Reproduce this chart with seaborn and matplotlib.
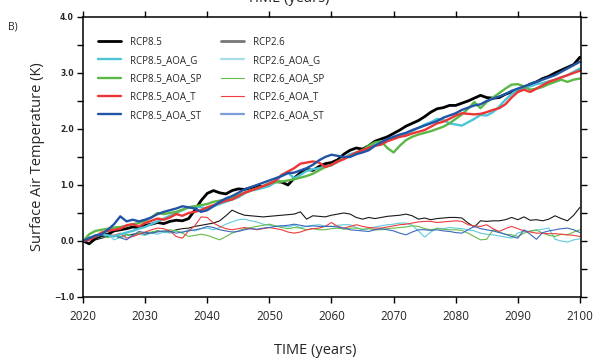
"""Surface air temperature anomaly, RCP8.5 / RCP2.6 with AOA variants (panel B)."""
import matplotlib
matplotlib.use("Agg")
import matplotlib.pyplot as plt
import numpy as np
import pandas as pd
import seaborn as sns

years = list(range(2020, 2101))

rcp85 = [0.00, -0.05, 0.05, 0.10, 0.12, 0.18, 0.20, 0.22, 0.25, 0.24,
         0.28, 0.30, 0.33, 0.31, 0.35, 0.37, 0.36, 0.40, 0.55, 0.72,
         0.85, 0.90, 0.86, 0.84, 0.90, 0.93, 0.92, 0.95, 0.98, 0.97,
         1.02, 1.06, 1.05, 1.00, 1.12, 1.22, 1.28, 1.26, 1.33, 1.38,
         1.40, 1.45, 1.55, 1.62, 1.66, 1.64, 1.70, 1.78, 1.82, 1.86,
         1.92, 1.98, 2.05, 2.10, 2.15, 2.22, 2.30, 2.36, 2.38, 2.42,
         2.42, 2.46, 2.50, 2.55, 2.60, 2.56, 2.55, 2.56, 2.62, 2.66,
         2.70, 2.74, 2.80, 2.84, 2.90, 2.94, 3.00, 3.05, 3.10, 3.15,
         3.28]
rcp85_g = [0.00, 0.05, 0.08, 0.12, 0.10, 0.08, 0.12, 0.15, 0.18, 0.22,
           0.25, 0.30, 0.35, 0.40, 0.45, 0.50, 0.55, 0.60, 0.62, 0.60,
           0.58, 0.62, 0.66, 0.70, 0.74, 0.78, 0.85, 0.90, 0.92, 0.95,
           0.98, 1.05, 1.18, 1.22, 1.12, 1.18, 1.25, 1.28, 1.30, 1.33,
           1.35, 1.42, 1.48, 1.55, 1.58, 1.62, 1.66, 1.72, 1.75, 1.80,
           1.84, 1.86, 1.90, 1.96, 2.02, 2.08, 2.12, 2.18, 2.16, 2.10,
           2.08, 2.06, 2.12, 2.18, 2.25, 2.24, 2.30, 2.40, 2.52, 2.62,
           2.70, 2.74, 2.76, 2.80, 2.82, 2.85, 2.88, 2.92, 2.96, 3.02,
           3.08]
rcp85_sp = [0.00, 0.12, 0.18, 0.20, 0.22, 0.24, 0.25, 0.27, 0.30, 0.32,
            0.36, 0.42, 0.50, 0.48, 0.50, 0.52, 0.56, 0.60, 0.62, 0.64,
            0.66, 0.70, 0.72, 0.74, 0.78, 0.82, 0.86, 0.90, 0.94, 0.98,
            1.03, 1.05, 1.06, 1.08, 1.10, 1.13, 1.16, 1.20, 1.26, 1.32,
            1.36, 1.41, 1.48, 1.52, 1.56, 1.62, 1.70, 1.76, 1.78, 1.66,
            1.58, 1.70, 1.80, 1.86, 1.90, 1.93, 1.96, 2.00, 2.04, 2.10,
            2.18, 2.26, 2.36, 2.48, 2.37, 2.48, 2.56, 2.64, 2.72, 2.79,
            2.80, 2.76, 2.70, 2.72, 2.75, 2.80, 2.84, 2.88, 2.84, 2.88,
            2.90]
rcp85_t = [0.00, 0.02, 0.08, 0.15, 0.18, 0.20, 0.22, 0.28, 0.30, 0.26,
           0.32, 0.36, 0.40, 0.38, 0.42, 0.48, 0.45, 0.50, 0.52, 0.55,
           0.60, 0.64, 0.68, 0.72, 0.74, 0.80, 0.86, 0.90, 0.94, 0.98,
           1.02, 1.08, 1.18, 1.24, 1.30, 1.38, 1.40, 1.42, 1.40, 1.32,
           1.36, 1.42, 1.46, 1.52, 1.58, 1.62, 1.66, 1.70, 1.72, 1.78,
           1.82, 1.86, 1.88, 1.92, 1.95, 1.98, 2.04, 2.10, 2.13, 2.18,
           2.24, 2.28, 2.27, 2.26, 2.27, 2.30, 2.34, 2.37, 2.44, 2.56,
           2.66, 2.70, 2.66, 2.72, 2.78, 2.84, 2.88, 2.92, 2.96, 3.00,
           3.04]
rcp85_st = [0.00, 0.05, 0.10, 0.12, 0.20, 0.30, 0.44, 0.35, 0.38, 0.35,
            0.38, 0.42, 0.48, 0.52, 0.55, 0.58, 0.62, 0.60, 0.58, 0.52,
            0.55, 0.62, 0.70, 0.76, 0.80, 0.86, 0.92, 0.96, 1.00, 1.04,
            1.08, 1.12, 1.16, 1.21, 1.22, 1.26, 1.30, 1.36, 1.44, 1.50,
            1.54, 1.52, 1.50, 1.50, 1.55, 1.58, 1.62, 1.70, 1.76, 1.82,
            1.86, 1.90, 1.93, 1.98, 2.02, 2.06, 2.10, 2.14, 2.20, 2.24,
            2.28, 2.34, 2.38, 2.42, 2.44, 2.50, 2.54, 2.58, 2.62, 2.68,
            2.72, 2.76, 2.80, 2.84, 2.88, 2.92, 2.96, 3.02, 3.08, 3.14,
            3.20]

rcp26 = [0.00, -0.05, 0.02, 0.05, 0.08, 0.10, 0.06, 0.10, 0.12, 0.14,
         0.12, 0.15, 0.18, 0.16, 0.16, 0.20, 0.22, 0.23, 0.26, 0.28,
         0.30, 0.32, 0.36, 0.45, 0.55, 0.50, 0.46, 0.45, 0.44, 0.43,
         0.44, 0.45, 0.46, 0.47, 0.48, 0.52, 0.39, 0.45, 0.44, 0.43,
         0.46, 0.48, 0.50, 0.48, 0.42, 0.39, 0.42, 0.40, 0.42, 0.44,
         0.45, 0.46, 0.48, 0.45, 0.39, 0.41, 0.38, 0.40, 0.41, 0.42,
         0.42, 0.41, 0.32, 0.25, 0.36, 0.35, 0.36, 0.36, 0.38, 0.42,
         0.38, 0.43, 0.37, 0.38, 0.36, 0.39, 0.45, 0.40, 0.36, 0.46,
         0.60]
rcp26_g = [0.00, 0.05, 0.10, 0.08, 0.12, 0.02, 0.06, 0.10, 0.08, 0.12,
           0.10, 0.14, 0.12, 0.16, 0.14, 0.18, 0.15, 0.20, 0.18, 0.22,
           0.23, 0.20, 0.24, 0.30, 0.34, 0.38, 0.39, 0.36, 0.34, 0.30,
           0.28, 0.26, 0.27, 0.25, 0.28, 0.24, 0.26, 0.28, 0.29, 0.27,
           0.26, 0.28, 0.29, 0.29, 0.24, 0.20, 0.22, 0.25, 0.27, 0.29,
           0.30, 0.32, 0.32, 0.28, 0.18, 0.07, 0.16, 0.23, 0.22, 0.24,
           0.23, 0.22, 0.20, 0.18, 0.14, 0.12, 0.11, 0.09, 0.07, 0.05,
           0.14, 0.18, 0.17, 0.19, 0.21, 0.23, 0.03, 0.00, -0.02, 0.02,
           0.04]
rcp26_sp = [0.00, 0.02, 0.05, 0.08, 0.06, 0.10, 0.08, 0.12, 0.10, 0.14,
            0.15, 0.16, 0.18, 0.17, 0.20, 0.18, 0.14, 0.08, 0.10, 0.12,
            0.10, 0.06, 0.02, 0.08, 0.14, 0.18, 0.22, 0.24, 0.26, 0.28,
            0.30, 0.27, 0.24, 0.22, 0.24, 0.23, 0.20, 0.22, 0.20, 0.20,
            0.22, 0.23, 0.21, 0.23, 0.23, 0.21, 0.22, 0.20, 0.20, 0.22,
            0.23, 0.24, 0.25, 0.27, 0.26, 0.22, 0.20, 0.22, 0.21, 0.20,
            0.20, 0.19, 0.14, 0.08, 0.02, 0.03, 0.20, 0.16, 0.12, 0.11,
            0.08, 0.14, 0.18, 0.20, 0.14, 0.10, 0.08, 0.12, 0.11, 0.16,
            0.20]
rcp26_t = [0.00, 0.04, 0.08, 0.10, 0.12, 0.10, 0.14, 0.05, 0.08, 0.12,
           0.16, 0.20, 0.23, 0.22, 0.18, 0.08, 0.05, 0.18, 0.27, 0.43,
           0.42, 0.32, 0.26, 0.22, 0.20, 0.22, 0.24, 0.22, 0.20, 0.22,
           0.24, 0.22, 0.20, 0.16, 0.14, 0.16, 0.20, 0.22, 0.23, 0.26,
           0.33, 0.26, 0.23, 0.26, 0.29, 0.26, 0.24, 0.23, 0.23, 0.25,
           0.27, 0.29, 0.30, 0.32, 0.34, 0.35, 0.35, 0.33, 0.34, 0.35,
           0.36, 0.35, 0.29, 0.27, 0.26, 0.29, 0.22, 0.17, 0.22, 0.26,
           0.22, 0.18, 0.16, 0.14, 0.14, 0.13, 0.13, 0.12, 0.11, 0.10,
           0.08]
rcp26_st = [0.00, 0.07, 0.05, 0.08, 0.10, 0.09, 0.06, 0.02, 0.10, 0.17,
            0.15, 0.14, 0.16, 0.18, 0.17, 0.14, 0.16, 0.18, 0.20, 0.22,
            0.26, 0.24, 0.20, 0.18, 0.16, 0.17, 0.20, 0.22, 0.21, 0.23,
            0.24, 0.26, 0.27, 0.28, 0.30, 0.28, 0.26, 0.27, 0.26, 0.26,
            0.26, 0.25, 0.23, 0.20, 0.19, 0.18, 0.17, 0.20, 0.22, 0.20,
            0.18, 0.14, 0.11, 0.16, 0.20, 0.20, 0.19, 0.20, 0.18, 0.17,
            0.15, 0.14, 0.20, 0.26, 0.22, 0.20, 0.18, 0.15, 0.12, 0.08,
            0.05, 0.20, 0.12, 0.03, 0.15, 0.18, 0.20, 0.22, 0.23, 0.20,
            0.15]

scenarios = ["RCP8.5", "RCP8.5_AOA_G", "RCP8.5_AOA_SP", "RCP8.5_AOA_T", "RCP8.5_AOA_ST",
             "RCP2.6", "RCP2.6_AOA_G", "RCP2.6_AOA_SP", "RCP2.6_AOA_T", "RCP2.6_AOA_ST"]
series = [rcp85, rcp85_g, rcp85_sp, rcp85_t, rcp85_st,
          rcp26, rcp26_g, rcp26_sp, rcp26_t, rcp26_st]

x_ticks = list(range(2020, 2101, 10))
y_ticks = [-1.0, 0.0, 1.0, 2.0, 3.0, 4.0]
y_tick_labels = ["\u22121.0", "0.0", "1.0", "2.0", "3.0", "4.0"]

colors = {
    "RCP8.5": "#000000", "RCP8.5_AOA_G": "#4cc4d8", "RCP8.5_AOA_SP": "#5cb846",
    "RCP8.5_AOA_T": "#ee3535", "RCP8.5_AOA_ST": "#2254a6",
    "RCP2.6": "#1a1a1a", "RCP2.6_AOA_G": "#5ccbdc", "RCP2.6_AOA_SP": "#66bb4c",
    "RCP2.6_AOA_T": "#f03c3c", "RCP2.6_AOA_ST": "#3d68bc",
}
widths = {s: (1.7 if "8.5" in s else 0.8) for s in scenarios}
widths["RCP8.5"] = 2.0

df = pd.DataFrame({
    "year": years * len(scenarios),
    "temp": np.concatenate(series),
    "scenario": np.repeat(scenarios, len(years)),
})

sns.set_style("ticks")
plt.rcParams["font.family"] = ["Open Sans", "DejaVu Sans"]

fig = plt.figure(figsize=(5.93, 3.6), dpi=100)
ax = fig.add_axes([0.140, 0.175, 0.840, 0.778])

draw_order = scenarios[5:] + scenarios[:5]
for name in draw_order:
    sub = df[df["scenario"] == name]
    sns.lineplot(data=sub, x="year", y="temp", color=colors[name], lw=widths[name],
                 ax=ax, label=name, legend=False)

ax.set_xlim(2020, 2100.2)
ax.set_ylim(-1.0, 4.0)
ax.set_xticks(x_ticks)
ax.set_xticklabels([str(y) for y in x_ticks], fontsize=8.4)
ax.set_yticks(y_ticks)
ax.set_yticklabels(y_tick_labels, fontsize=5.6, fontweight="bold", family="DejaVu Sans")
ax.set_yticks(np.arange(-0.5, 4.0, 1.0), minor=True)
ax.tick_params(axis="both", which="both", direction="out", length=4.5, width=1.0,
               color="black", top=True, right=True)
ax.tick_params(axis="x", pad=4.5)
ax.tick_params(axis="y", pad=2)
for sp in ax.spines.values():
    sp.set_visible(True)
    sp.set_linewidth(1.1)
    sp.set_color("black")
ax.set_xlabel("")
ax.set_ylabel("Surface Air Temperature (K)", fontsize=10.5, labelpad=6)

fig.text(0.531, 0.025, "TIME (years)", fontsize=10.5, ha="center", va="center")
fig.text(0.014, 0.925, "B)", fontsize=7.5, ha="left", va="center")
# bottom edge of the panel above, cut off by the figure border
fig.text(0.486, 0.994, "TIME (years)", fontsize=10.5, ha="center", va="baseline")

handles, labels = ax.get_legend_handles_labels()
lookup = dict(zip(labels, handles))
leg_handles = [lookup[s] for s in scenarios]
leg = ax.legend(leg_handles, scenarios, ncol=2, loc="upper left",
                bbox_to_anchor=(0.030, 0.93), frameon=False, fontsize=7,
                handlelength=2.4, handletextpad=0.9, labelspacing=0.75,
                columnspacing=2.0, borderpad=0, borderaxespad=0)
for h, name in zip(leg.legend_handles, scenarios):
    if name == "RCP2.6":
        h.set_color("#777777")
        h.set_linewidth(2.0)
    elif name == "RCP2.6_AOA_G":
        h.set_color("#a6dfe8")
        h.set_linewidth(1.6)
    elif name == "RCP2.6_AOA_ST":
        h.set_color("#7a9fd6")
        h.set_linewidth(1.6)

fig.savefig("out.png", dpi=100)
